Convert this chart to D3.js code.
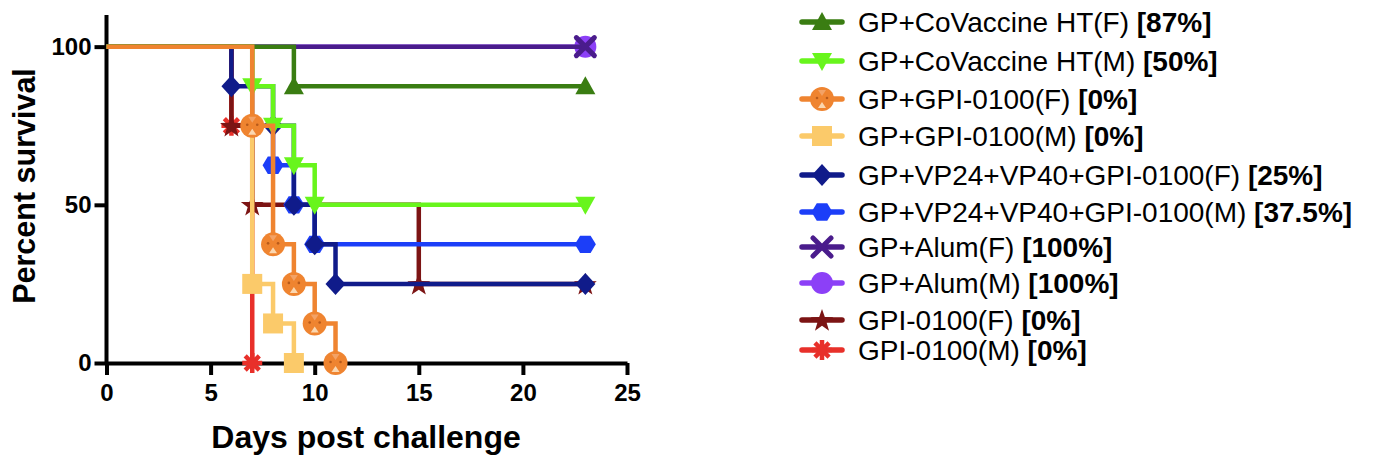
<!DOCTYPE html>
<html>
<head>
<meta charset="utf-8">
<script src="https://cdn.jsdelivr.net/npm/d3@7"></script>
<style>
  body { margin: 0; background: #fff; }
  text { font-family: "Liberation Sans", Arial, Helvetica, sans-serif; }
</style>
</head>
<body>
<div id="chart"></div>
<script>
// group names, in legend order
var names = ["GP+CoVaccine HT(F)", "GP+CoVaccine HT(M)", "GP+GPI-0100(F)", "GP+GPI-0100(M)",
             "GP+VP24+VP40+GPI-0100(F)", "GP+VP24+VP40+GPI-0100(M)", "GP+Alum(F)", "GP+Alum(M)",
             "GPI-0100(F)", "GPI-0100(M)"];
var survLabels = ["[87%]", "[50%]", "[0%]", "[0%]", "[25%]", "[37.5%]", "[100%]", "[100%]", "[0%]", "[0%]"];

// step points (day, percent survival)
var days = [
  [0, 9, 23],
  [0, 7, 8, 9, 10, 23],
  [0, 7, 8, 9, 10, 11],
  [0, 7, 8, 9],
  [0, 6, 8, 9, 10, 11, 23],
  [0, 7, 8, 9, 10, 23],
  [0, 23],
  [0, 23],
  [0, 6, 7, 15, 23],
  [0, 6, 7]
];
var survival = [
  [100, 87.5, 87.5],
  [100, 87.5, 75, 62.5, 50, 50],
  [100, 75, 37.5, 25, 12.5, 0],
  [100, 25, 12.5, 0],
  [100, 87.5, 75, 50, 37.5, 25, 25],
  [100, 75, 62.5, 50, 37.5, 37.5],
  [100, 100],
  [100, 100],
  [100, 75, 50, 25, 25],
  [100, 75, 0]
];
var xTicks = [0, 5, 10, 15, 20, 25];
var yTicks = [0, 50, 100];

var colors = ["#3a7d12", "#68f51c", "#ef8430", "#fbca6a", "#101b8a", "#1c3ef8",
              "#4a1c8c", "#8c40f7", "#7c1414", "#e8302a"];
var shapes = ["triUp", "triDown", "face", "square", "diamond", "hexagon", "times", "circle", "star", "asterisk"];
// which series sits on top (drawn last)
var drawOrder = [9, 8, 7, 6, 5, 4, 3, 1, 0, 2];
var legendY = [22, 61, 99, 136, 175, 212, 247, 283, 320, 350];

var w = 1374, h = 458;

var svg = d3.select("#chart").append("svg")
  .attr("width", w)
  .attr("height", h);

var x = d3.scaleLinear().domain([0, 25]).range([106.5, 627]);
var y = d3.scaleLinear().domain([0, 110]).range([363, 15]);

// draws one marker of a given shape centred on 0,0
function marker(g, shape, color) {
  if (shape == "triUp") {
    g.append("path").attr("d", "M0,-10L10,8L-10,8Z").attr("fill", color);
  } else if (shape == "triDown") {
    g.append("path").attr("d", "M0,10L10,-8L-10,-8Z").attr("fill", color);
  } else if (shape == "square") {
    g.append("rect").attr("x", -10).attr("y", -10).attr("width", 20).attr("height", 20).attr("fill", color);
  } else if (shape == "diamond") {
    g.append("path").attr("d", "M0,-11L10,0L0,11L-10,0Z").attr("fill", color);
  } else if (shape == "hexagon") {
    var pts = d3.range(6).map(function(i) {
      var a = i * Math.PI / 3;
      return [10.5 * Math.cos(a), 10 * Math.sin(a)];
    });
    g.append("path").attr("d", "M" + pts.join("L") + "Z").attr("fill", color);
  } else if (shape == "circle") {
    g.append("circle").attr("r", 11).attr("fill", color);
  } else if (shape == "face") {
    g.append("circle").attr("r", 12).attr("fill", color);
    g.append("path").attr("d", "M0,3L4,9L-4,9Z").attr("fill", "#fbd7b0");
    g.append("path").attr("d", "M0,-3L4,-9L-4,-9Z").attr("fill", "#f3a266");
    g.append("circle").attr("cx", -5).attr("cy", -1).attr("r", 1.3).attr("fill", "#b85a1a");
    g.append("circle").attr("cx", 5).attr("cy", -1).attr("r", 1.3).attr("fill", "#b85a1a");
  } else if (shape == "times") {
    g.append("path").attr("d", "M-9,-9L9,9M9,-9L-9,9")
      .attr("stroke", color).attr("stroke-width", 5).attr("stroke-linecap", "round");
  } else if (shape == "star") {
    var sp = d3.range(10).map(function(i) {
      var a = -Math.PI / 2 + i * Math.PI / 5;
      var r = i % 2 == 0 ? 12 : 4.8;
      return [r * Math.cos(a), r * Math.sin(a) + 1];
    });
    g.append("path").attr("d", "M" + sp.join("L") + "Z").attr("fill", color);
  } else if (shape == "asterisk") {
    var ap = "";
    for (var i = 0; i < 8; i++) {
      var a = i * Math.PI / 4;
      ap += "M0,0L" + (10 * Math.cos(a)) + "," + (10 * Math.sin(a));
    }
    g.append("path").attr("d", ap).attr("stroke", color).attr("stroke-width", 4.5);
    g.append("circle").attr("r", 5).attr("fill", color);
  }
}

// axes
var xAxis = svg.append("g")
  .attr("transform", "translate(0," + y(0) + ")")
  .call(d3.axisBottom(x).tickValues(xTicks).tickSize(12).tickSizeOuter(0).tickPadding(9));
var yAxis = svg.append("g")
  .attr("transform", "translate(" + x(0) + ",0)")
  .call(d3.axisLeft(y).tickValues(yTicks).tickSize(12).tickSizeOuter(0).tickPadding(3));

[xAxis, yAxis].forEach(function(ax) {
  ax.select(".domain").attr("stroke", "#000").attr("stroke-width", 4);
  ax.selectAll(".tick line").attr("stroke", "#000").attr("stroke-width", 4);
  ax.selectAll(".tick text")
    .attr("fill", "#000")
    .style("font-size", "24px")
    .style("font-weight", "bold")
    .style("font-family", "'Liberation Sans', Arial, sans-serif");
});
// the y axis runs up past 100
yAxis.select(".domain").attr("d", "M0," + y(0) + "V" + y(110));

svg.append("text")
  .attr("x", 366)
  .attr("y", 448)
  .attr("text-anchor", "middle")
  .style("font-size", "32px")
  .style("font-weight", "bold")
  .text("Days post challenge");

svg.append("text")
  .attr("transform", "translate(35,186) rotate(-90)")
  .attr("text-anchor", "middle")
  .style("font-size", "30.5px")
  .style("font-weight", "bold")
  .text("Percent survival");

var line = d3.line()
  .x(function(d) { return x(d[0]); })
  .y(function(d) { return y(d[1]); })
  .curve(d3.curveStepAfter);

var plot = svg.append("g");

drawOrder.forEach(function(k) {
  var pts = days[k].map(function(d, i) { return [d, survival[k][i]]; });
  var g = plot.append("g");
  g.append("path")
    .attr("d", line(pts))
    .attr("fill", "none")
    .attr("stroke", colors[k])
    .attr("stroke-width", 4.5);
  pts.slice(1).forEach(function(p) {
    var m = g.append("g").attr("transform", "translate(" + x(p[0]) + "," + y(p[1]) + ")");
    marker(m, shapes[k], colors[k]);
  });
});

// legend
var legend = svg.append("g");
names.forEach(function(name, k) {
  var row = legend.append("g").attr("transform", "translate(0," + legendY[k] + ")");
  row.append("line")
    .attr("x1", 802).attr("x2", 842)
    .attr("stroke", colors[k])
    .attr("stroke-width", 5.5)
    .attr("stroke-linecap", "round");
  var m = row.append("g").attr("transform", "translate(822,0)");
  marker(m, shapes[k], colors[k]);
  var t = row.append("text")
    .attr("x", 858)
    .attr("y", 10)
    .style("font-size", "28px")
    .attr("fill", "#000");
  t.append("tspan").text(name + " ");
  t.append("tspan").style("font-weight", "bold").text(survLabels[k]);
});
</script>
</body>
</html>
